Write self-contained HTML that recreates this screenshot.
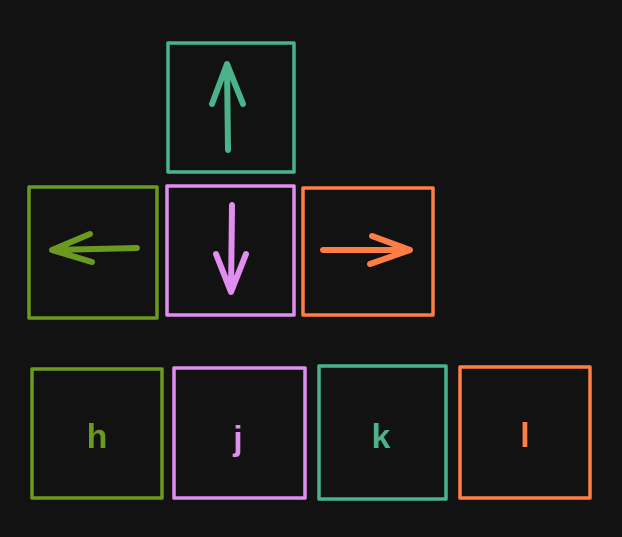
<!DOCTYPE html>
<html><head><meta charset="utf-8"><style>
html,body{margin:0;padding:0;background:#121212;}
svg{display:block}
text{font-family:"Liberation Sans",sans-serif;font-size:34px;font-weight:bold;text-anchor:middle;}
</style></head><body>
<svg width="622" height="537" viewBox="0 0 622 537">
<rect width="622" height="537" fill="#121212"/>
<g fill="none" stroke-width="3.5" stroke-linecap="round" stroke-linejoin="round">
 <g stroke="#4bb38b">
  <rect x="168" y="43" width="126" height="129"/>
  <path d="M228 150 L227 64 M212 104 L227 64 L243 104" stroke-width="6"/>
 </g>
 <g stroke="#6b9a1f">
  <rect x="29" y="187" width="128" height="131"/>
  <path d="M137 248 L52 250 M90 234 L52 250 L92 262" stroke-width="6"/>
 </g>
 <g stroke="#e08ef0">
  <rect x="167" y="186" width="127" height="129"/>
  <path d="M232 205 L231 292 M216 254 L231 292 L246 254" stroke-width="6"/>
 </g>
 <g stroke="#ff7e45">
  <rect x="303" y="188" width="130" height="127"/>
  <path d="M323 250 L410 250 M372 236 L410 250 L370 264" stroke-width="6"/>
 </g>
 <rect x="32" y="369" width="130" height="129" stroke="#6b9a1f"/>
 <rect x="174" y="368" width="131" height="130" stroke="#e08ef0"/>
 <rect x="319" y="366" width="127" height="133" stroke="#4bb38b"/>
 <rect x="460" y="367" width="130" height="131" stroke="#ff7e45"/>
</g>
<text x="97" y="448" fill="#6b9a1f">h</text>
<text x="238" y="450" fill="#e08ef0">j</text>
<text x="381" y="448" fill="#4bb38b">k</text>
<text x="525" y="447" fill="#ff7e45">l</text>
</svg>
</body></html>
